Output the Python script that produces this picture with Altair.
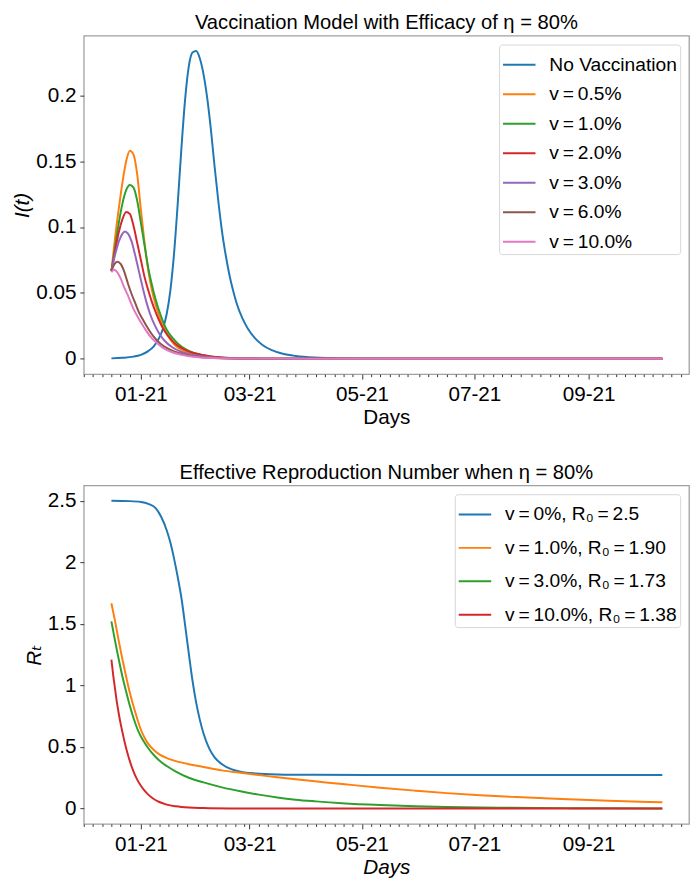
import altair as alt
import pandas as pd

START = pd.Timestamp("2020-12-16")
TS = "\u2009"  # thin space, as in the math-text labels

# ---------------- top panel: I(t) ----------------
top_labels = ["No Vaccination", f"v{TS}={TS}0.5%", f"v{TS}={TS}1.0%", f"v{TS}={TS}2.0%",
              f"v{TS}={TS}3.0%", f"v{TS}={TS}6.0%", f"v{TS}={TS}10.0%"]
top_colors = ["#1f77b4", "#ff7f0e", "#2ca02c", "#d62728",
              "#9467bd", "#8c564b", "#e377c2"]

i_none_days = [0, 6, 12, 16, 20, 23, 26, 28, 30, 32, 34, 36, 38, 40, 42, 44, 46,
               48, 50, 52, 54, 56, 58, 60, 62, 64, 66, 68, 71, 74, 78, 82, 87, 93,
               100, 110, 125, 150, 200, 299]
i_none_vals = [0.0003, 0.0007, 0.0016, 0.003, 0.0058, 0.0095, 0.016, 0.023, 0.034,
               0.052, 0.080, 0.118, 0.160, 0.197, 0.222, 0.2325, 0.2337, 0.228,
               0.216, 0.198, 0.174, 0.146, 0.120, 0.097, 0.079, 0.064, 0.052, 0.042,
               0.031, 0.023, 0.0155, 0.0105, 0.0065, 0.0038, 0.0021, 0.0009, 0.0003,
               0.0001, 0.0, 0.0]

i_05_days = [0, 2, 4, 6, 8, 10, 12, 14, 16, 18, 20, 22, 24, 27, 30, 34, 38, 44, 50,
             60, 75, 100, 299]
i_05_vals = [0.0665, 0.092, 0.114, 0.134, 0.150, 0.158, 0.155, 0.140, 0.113, 0.088,
             0.067, 0.052, 0.041, 0.028, 0.019, 0.011, 0.0068, 0.0035, 0.0018,
             0.0006, 0.0001, 0.0, 0.0]

i_10_days = [0, 2, 4, 6, 8, 10, 12, 14, 16, 18, 20, 22, 24, 27, 30, 34, 38, 42, 48,
             55, 65, 80, 100, 299]
i_10_vals = [0.0665, 0.085, 0.103, 0.118, 0.128, 0.132, 0.130, 0.120, 0.103, 0.086,
             0.069, 0.056, 0.045, 0.032, 0.022, 0.0145, 0.0092, 0.006, 0.0033,
             0.0016, 0.0006, 0.0001, 0.0, 0.0]

i_20_days = [0, 2, 4, 6, 8, 10, 12, 14, 16, 18, 20, 22, 25, 28, 31, 35, 40, 46, 54,
             65, 80, 100, 299]
i_20_vals = [0.0665, 0.082, 0.096, 0.106, 0.1115, 0.110, 0.101, 0.088, 0.075,
             0.062, 0.052, 0.043, 0.032, 0.023, 0.017, 0.011, 0.0068, 0.0038,
             0.0018, 0.0006, 0.0001, 0.0, 0.0]

i_30_days = [0, 2, 4, 6, 7.3, 9, 11, 13, 15, 17, 19, 21, 23, 26, 29, 33, 38, 45, 55,
             70, 100, 299]
i_30_vals = [0.0665, 0.079, 0.089, 0.095, 0.0966, 0.095, 0.089, 0.078, 0.066,
             0.054, 0.043, 0.034, 0.027, 0.019, 0.0135, 0.0087, 0.0052, 0.0026,
             0.001, 0.0002, 0.0, 0.0]

i_60_days = [0, 1.5, 3.3, 5, 7, 9, 11, 13, 15, 17, 19, 21, 24, 27, 30, 34, 40, 48,
             60, 80, 100, 299]
i_60_vals = [0.0665, 0.0715, 0.0737, 0.072, 0.066, 0.057, 0.049, 0.042, 0.035,
             0.030, 0.025, 0.0205, 0.015, 0.011, 0.0082, 0.0055, 0.003, 0.0013,
             0.0004, 0.0001, 0.0, 0.0]

i_100_days = [0, 1.4, 3, 5, 7, 9, 11, 13, 15, 17, 19, 22, 25, 28, 32, 38, 46, 58,
              80, 100, 299]
i_100_vals = [0.0657, 0.0676, 0.066, 0.061, 0.054, 0.048, 0.041, 0.035, 0.030,
              0.0255, 0.021, 0.0155, 0.0115, 0.0083, 0.0055, 0.003, 0.0013, 0.0004,
              0.0001, 0.0, 0.0]

top_series = [(i_none_days, i_none_vals), (i_05_days, i_05_vals),
              (i_10_days, i_10_vals), (i_20_days, i_20_vals),
              (i_30_days, i_30_vals), (i_60_days, i_60_vals),
              (i_100_days, i_100_vals)]

# ---------------- bottom panel: R_t ----------------
bot_labels = [f"v{TS}={TS}0%, R\u2080{TS}={TS}2.5", f"v{TS}={TS}1.0%, R\u2080{TS}={TS}1.90",
              f"v{TS}={TS}3.0%, R\u2080{TS}={TS}1.73", f"v{TS}={TS}10.0%, R\u2080{TS}={TS}1.38"]
bot_colors = ["#1f77b4", "#ff7f0e", "#2ca02c", "#d62728"]

r_0_days = [0, 10, 16, 20, 24, 27, 30, 32, 34, 36, 38, 40, 42, 44, 46, 48, 50, 53,
            56, 60, 65, 70, 78, 90, 110, 150, 299]
r_0_vals = [2.500, 2.497, 2.49, 2.475, 2.44, 2.37, 2.26, 2.16, 2.03, 1.88, 1.71,
            1.49, 1.26, 1.04, 0.86, 0.72, 0.61, 0.49, 0.415, 0.36, 0.32, 0.30,
            0.285, 0.277, 0.274, 0.273, 0.272]

r_1_days = [0, 2, 4, 6, 8, 10, 12, 14, 16, 18, 20, 23, 26, 30, 35, 42, 50, 60, 70,
            80, 90, 100, 115, 130, 146, 165, 182, 200, 220, 241, 270, 299]
r_1_vals = [1.667, 1.52, 1.36, 1.21, 1.07, 0.94, 0.83, 0.73, 0.64, 0.575, 0.525,
            0.475, 0.44, 0.41, 0.385, 0.36, 0.338, 0.31, 0.29, 0.272, 0.254, 0.237,
            0.214, 0.192, 0.169, 0.145, 0.125, 0.108, 0.093, 0.079, 0.063, 0.051]

r_3_days = [0, 2, 4, 6, 8, 10, 12, 14, 16, 18, 20, 23, 26, 30, 35, 42, 50, 60, 70,
            80, 90, 100, 111, 125, 146, 165, 182, 210, 250, 299]
r_3_vals = [1.52, 1.36, 1.21, 1.07, 0.95, 0.835, 0.735, 0.65, 0.585, 0.535, 0.49,
            0.435, 0.39, 0.345, 0.30, 0.25, 0.212, 0.172, 0.14, 0.113, 0.09, 0.072,
            0.058, 0.043, 0.028, 0.019, 0.013, 0.007, 0.003, 0.001]

r_10_days = [0, 1, 2, 3, 4, 5, 6, 7, 8, 9, 10, 12, 14, 16, 18, 20, 23, 26, 30, 35,
             42, 50, 65, 90, 299]
r_10_vals = [1.21, 1.08, 0.97, 0.86, 0.77, 0.69, 0.62, 0.55, 0.49, 0.435, 0.385,
             0.30, 0.235, 0.185, 0.145, 0.113, 0.077, 0.053, 0.032, 0.018, 0.008,
             0.004, 0.001, 0.0, 0.0]

bot_series = [(r_0_days, r_0_vals), (r_1_days, r_1_vals),
              (r_3_days, r_3_vals), (r_10_days, r_10_vals)]


def build(labels, series):
    rows = []
    for lab, (days, vals) in zip(labels, series):
        for d, v in zip(days, vals):
            rows.append({"date": (START + pd.Timedelta(days=d)).strftime("%Y-%m-%dT%H:%M:%S"),
                         "value": v, "series": lab})
    return pd.DataFrame(rows)


df_top = build(top_labels, top_series)
df_bot = build(bot_labels, bot_series)

FONT = "Liberation Sans, Arial, DejaVu Sans, sans-serif"

# x ticks: majors every 2 months, minors every 5 days
months = [(2020, 12)] + [(2021, m) for m in range(1, 11)]
tick_vals = []
for (yy, mm) in months:
    for dd in [1, 6, 11, 16, 21, 26]:
        if (yy, mm) == (2021, 10) and dd > 21:
            continue
        tick_vals.append(alt.DateTime(year=yy, month=mm, date=dd))

MAJOR = "date(datum.value) == 1 && month(datum.value) % 2 == 0"
x_domain = [alt.DateTime(year=2020, month=12, date=1),
            alt.DateTime(year=2021, month=10, date=25, hours=12)]


def x_enc(italic):
    return alt.X(
        "date:T",
        title="Days",
        scale=alt.Scale(domain=x_domain),
        axis=alt.Axis(
            values=tick_vals,
            labelExpr=f"({MAJOR}) ? timeFormat(datum.value, '%m-%y') : ''",
            labelOverlap=False,
            tickSize={"condition": {"test": MAJOR, "value": 5}, "value": 2.5},
            labelPadding=5,
            titleY=50,
            titleBaseline="alphabetic",
            titleFontStyle="italic" if italic else "normal",
        ),
    )


W, H = 615, 344

top = alt.Chart(df_top).mark_line(strokeWidth=2, interpolate="monotone").encode(
    x=x_enc(False),
    y=alt.Y("value:Q", title="I(t)",
            scale=alt.Scale(domain=[-0.0117, 0.2454], nice=False, zero=False),
            axis=alt.Axis(values=[0, 0.05, 0.1, 0.15, 0.2], format="~g",
                          titleX=-56, titleBaseline="alphabetic",
                          titleFontStyle="italic")),
    color=alt.Color("series:N", sort=top_labels,
                    scale=alt.Scale(domain=top_labels, range=top_colors),
                    legend=alt.Legend(title=None, orient="top-right", offset=9,
                                      rowPadding=3)),
).properties(
    width=W, height=H,
    title=alt.Title("Vaccination Model with Efficacy of η = 80%",
                    baseline="alphabetic", offset=-14, frame="group"),
)

bot = alt.Chart(df_bot).mark_line(strokeWidth=2, interpolate="monotone").encode(
    x=x_enc(True),
    y=alt.Y("value:Q", title="R\u209c",
            scale=alt.Scale(domain=[-0.125, 2.625], nice=False, zero=False),
            axis=alt.Axis(values=[0, 0.5, 1, 1.5, 2, 2.5], format="~g",
                          titleX=-43.5, titleBaseline="alphabetic",
                          titleFontStyle="italic")),
    color=alt.Color("series:N", sort=bot_labels,
                    scale=alt.Scale(domain=bot_labels, range=bot_colors),
                    legend=alt.Legend(title=None, orient="top-right", offset=9,
                                      rowPadding=7)),
).properties(
    width=W, height=H,
    title=alt.Title("Effective Reproduction Number when η = 80%",
                    baseline="alphabetic", offset=-14, frame="group"),
)

chart = alt.vconcat(top, bot, spacing=113, bounds="flush").resolve_scale(
    color="independent", y="independent"
).properties(
    padding={"left": 3, "top": -3, "right": 0, "bottom": 0}
).configure(
    font=FONT,
).configure_view(
    stroke="#a0a0a0", strokeWidth=1.3,
).configure_axis(
    domain=False, grid=False,
    labelFont=FONT, labelFontSize=21, labelColor="#000000",
    titleFont=FONT, titleFontSize=21, titleFontWeight="normal", titleColor="#000000",
    tickColor="#333333", tickWidth=1, tickSize=4, labelPadding=4,
).configure_title(
    font=FONT, fontSize=20.5, fontWeight="normal", color="#000000", anchor="middle",
).configure_legend(
    labelFont=FONT, labelFontSize=19.5, labelColor="#000000", labelLimit=400,
    symbolType="stroke", symbolSize=1089, symbolStrokeWidth=2,
    labelOffset=13, padding=3, fillColor="#ffffff", strokeColor="#d6d6d6",
    cornerRadius=3,
)

chart.save("out.html", embed_options={"renderer": "svg", "actions": False})
